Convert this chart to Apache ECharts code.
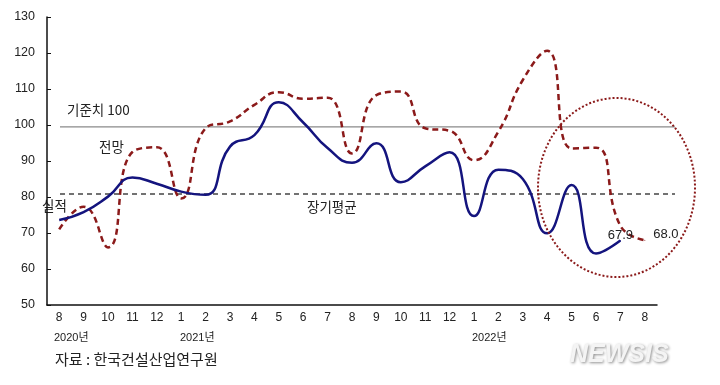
<!DOCTYPE html>
<html><head><meta charset="utf-8">
<script src="https://cdn.jsdelivr.net/npm/echarts@6/dist/echarts.min.js"></script>
<style>html,body{margin:0;padding:0;background:#fff}#c{width:720px;height:385px}</style>
</head><body><div id="c"></div>
<script>
const months = ['8','9','10','11','12','1','2','3','4','5','6','7','8','9','10','11','12','1','2','3','4','5','6','7','8'];
const actual = [73.6,75.8,80.1,85.4,83.7,81.5,80.6,94,97.2,106.3,100.7,93.6,89.5,94.9,84.1,88.5,92.4,74.7,87.6,85,69.9,83.3,64.3,67.9,null];
const forecast = [71,77.3,66,92.5,93.8,79.6,99.1,101,105.6,109.1,107.3,107.6,92.1,108.3,109.3,99.1,98.4,90.2,98.2,112.5,120.6,93.5,93.7,72,68.0];
const baseLine = 99.5;
const avgLine = 80.8;
const yearLabels = ['2020년','2021년','2022년'];
const FONT = '"Liberation Sans", "Noto Sans CJK KR", sans-serif';
const KFONT = '"Noto Sans CJK KR", sans-serif';

const lastLabel = (arr, idx, opts) => arr.map((v,i)=> i===idx ? {value:v,symbolSize:1,label:Object.assign({show:true,formatter:v.toFixed(1),color:'#222',fontSize:13,fontFamily:FONT},opts)} : v);

const chart = echarts.init(document.getElementById('c'));
chart.setOption({
  animation:false,
  backgroundColor:'#fff',
  grid:[
    {left:47,right:63,top:17,bottom:80},
    {left:60,right:45,top:17,bottom:80}
  ],
  xAxis:[
    {type:'category',data:months,gridIndex:0,boundaryGap:true,
     axisLine:{lineStyle:{color:'#111',width:1.5}},
     axisTick:{inside:true,length:4,alignWithLabel:false,lineStyle:{color:'#111'}},
     axisLabel:{color:'#222',fontSize:12,fontFamily:FONT,margin:7,interval:0},
     splitLine:{show:false}},
    {type:'value',gridIndex:1,min:0,max:1,show:false}
  ],
  yAxis:[
    {type:'value',gridIndex:0,min:50,max:130,interval:10,
     axisLine:{show:true,lineStyle:{color:'#111',width:1.5}},
     axisTick:{show:true,inside:true,length:4,lineStyle:{color:'#111'}},
     axisLabel:{color:'#222',fontSize:12.5,fontFamily:FONT,margin:12},
     splitLine:{show:false}},
    {type:'value',gridIndex:1,min:50,max:130,show:false}
  ],
  series:[
    {type:'line',xAxisIndex:1,yAxisIndex:1,data:[[0,baseLine],[1,baseLine]],symbol:'none',silent:true,
     lineStyle:{color:'#8a8a8a',width:1.2}},
    {type:'line',xAxisIndex:1,yAxisIndex:1,data:[[0,avgLine],[1,avgLine]],symbol:'none',silent:true,
     lineStyle:{color:'#444',width:1.5,type:[5,4]}},
    {name:'전망',type:'line',data:lastLabel(forecast,forecast.length-1,{position:'right',distance:8,offset:[0,-6]}),
     smooth:0.5,symbol:'circle',symbolSize:0,showSymbol:true,itemStyle:{color:'#8b1a1a'},
     lineStyle:{color:'#8b1a1a',width:2.5,type:[6,4]}},
    {name:'실적',type:'line',data:lastLabel(actual,23,{position:'inside',offset:[0,-5]}),
     smooth:0.5,symbol:'circle',symbolSize:0,showSymbol:true,connectNulls:false,itemStyle:{color:'#14147e'},
     lineStyle:{color:'#14147e',width:2.5}}
  ],
  graphic:[
    {type:'text',left:67,top:103,style:{text:'기준치 100',font:'13.5px '+KFONT,fill:'#222'}},
    {type:'text',left:99,top:140,style:{text:'전망',font:'13.5px '+KFONT,fill:'#222'}},
    {type:'text',left:42,top:199,style:{text:'실적',font:'13.5px '+KFONT,fill:'#222'}},
    {type:'text',left:307,top:200,style:{text:'장기평균',font:'13.5px '+KFONT,fill:'#222'}},
    {type:'text',left:54,top:332,style:{text:yearLabels[0],font:'11px '+FONT,fill:'#222'}},
    {type:'text',left:180,top:332,style:{text:yearLabels[1],font:'11px '+FONT,fill:'#222'}},
    {type:'text',left:472,top:332,style:{text:yearLabels[2],font:'11px '+FONT,fill:'#222'}},
    {type:'text',left:55,top:352,style:{text:'자료 : 한국건설산업연구원',font:'15px '+KFONT,fill:'#222'}},
    {type:'text',left:570,top:343,style:{text:'NEWSIS',font:'italic bold 25px '+FONT,fill:'#f4f4f4',textShadowColor:'rgba(0,0,0,0.45)',textShadowBlur:3,textShadowOffsetX:1,textShadowOffsetY:1}},
    {type:'ellipse',shape:{cx:616.5,cy:187.5,rx:78.5,ry:89.5},style:{fill:'none',stroke:'#8b1a1a',lineWidth:2,lineDash:[2,2]},z:10}
  ]
});
</script></body></html>
